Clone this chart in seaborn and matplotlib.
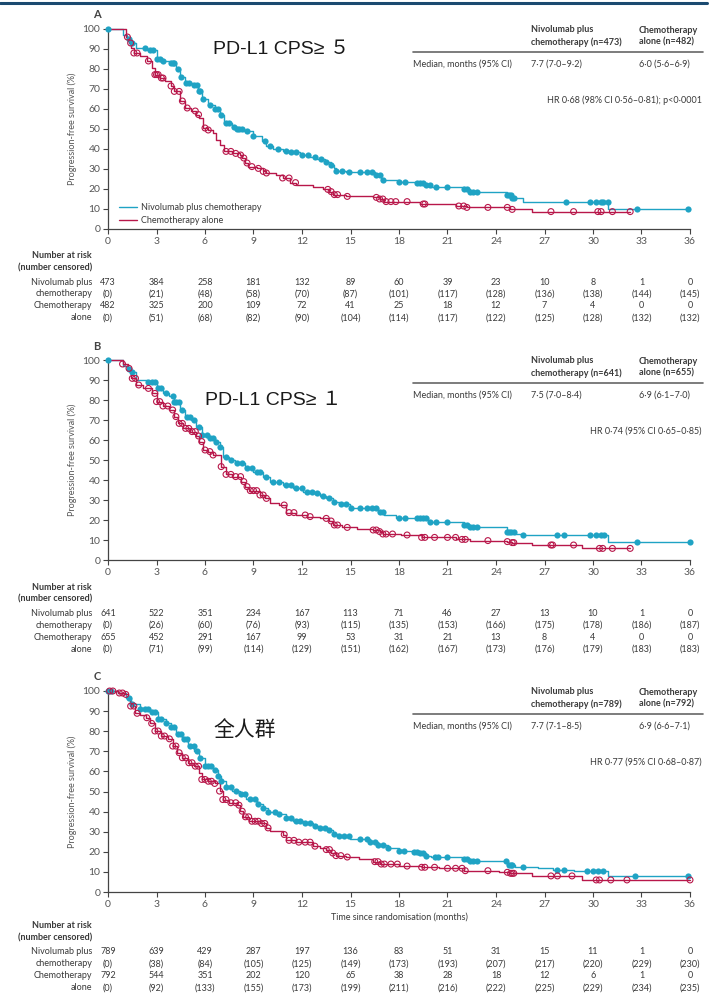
import numpy as np
import pandas as pd
import seaborn as sns
import matplotlib
matplotlib.use("Agg")
import matplotlib.pyplot as plt
import matplotlib.transforms as mtransforms
from matplotlib.lines import Line2D

sns.set_style("ticks")
plt.rcParams['font.family'] = ['Lato', 'DejaVu Sans']

TEAL = "#1fa3c4"
RED = "#b8174a"
TXT = "#3a3a3a"

# ---- data ----
months = list(range(0, 37, 3))

# panel A (PD-L1 CPS >= 5)
nivo_a_t = [0, 0.9, 1.2, 1.4, 1.75, 2.4, 3.0, 3.4, 3.9, 4.2, 4.45, 4.75, 5.25, 5.55, 5.8, 6.2, 6.6, 6.9, 7.2, 7.7,
            8.0, 8.35, 9.0, 9.5, 9.8, 10.2, 10.8, 11.2, 11.85, 12.5, 12.9, 13.4, 13.8, 13.95, 14.1, 14.7, 16.5, 16.9,
            18.0, 19.1, 19.6, 20.0, 22.0, 22.4, 24.65, 25.0, 25.7, 30.95, 36.0]
nivo_a_s = [100, 97, 95, 93, 90.5, 89.5, 85, 84, 83, 80, 76, 73, 72, 69, 65, 62, 60, 57, 53, 51,
            50, 49, 46.5, 44, 41.5, 40, 39, 38.3, 37.2, 36, 35, 33.5, 32, 30.5, 29.2, 28.3, 27, 24.5,
            23.3, 22.8, 22, 21.2, 20, 18.7, 17, 15.3, 13.7, 9.8, 9.8]
chemo_a_t = [0, 1.1, 1.3, 1.45, 1.6, 1.95, 2.4, 2.7, 2.9, 3.2, 3.5, 3.9, 4.1, 4.45, 4.75, 5.15, 5.45, 5.65, 5.9, 6.2,
             6.5, 6.7, 6.9, 7.2, 7.7, 8.15, 8.3, 8.45, 8.65, 9.2, 9.6, 9.8, 10.4, 10.8, 11.25, 11.65, 12.7, 13.3,
             13.7, 13.9, 14.7, 16.4, 16.8, 17.1, 19.3, 21.55, 22.2, 24.85, 26.2, 32.3]
chemo_a_s = [100, 96, 93, 90.5, 88, 86.7, 84, 80.5, 77.2, 75.5, 74, 71.5, 68.8, 64, 60.5, 59, 57.2, 55.5, 50.5, 49.5,
             47.8, 44.7, 42.2, 38.8, 37.8, 37, 35.5, 33, 31.2, 30.3, 28.8, 28, 27, 25.5, 23.2, 22.2, 21, 19.8,
             18.7, 17.2, 16.3, 15.8, 15, 13.7, 12.5, 11.5, 10.8, 9.8, 8.7, 8.7]
nivo_a_cens = [0, 1.3, 1.5, 2.3, 2.6, 2.8, 3.0, 3.2, 3.4, 3.9, 4.0, 4.1, 4.3, 4.5, 4.8, 5.0, 5.3, 5.5, 5.6, 5.7, 5.9,
               6.3, 6.6, 6.8, 7.0, 7.3, 7.5, 7.8, 8.0, 8.1, 8.3, 8.6, 9.0, 9.7, 10.0, 10.5, 11.0, 11.3, 11.6, 12.0,
               12.4, 12.8, 13.2, 13.5, 13.8, 14.1, 14.5, 14.9, 15.6, 16.0, 16.3, 16.6, 16.8, 17.0, 18.0, 18.4, 19.1,
               19.3, 19.5, 19.7, 19.9, 20.3, 21.0, 22.0, 22.2, 22.4, 22.6, 22.8, 24.7, 24.8, 24.9, 25.0, 25.1, 28.3,
               29.8, 30.2, 30.5, 30.6, 30.9, 32.7, 35.9]
chemo_a_cens = [1.2, 1.4, 1.6, 1.8, 2.5, 2.9, 3.0, 3.1, 3.3, 3.4, 3.9, 4.1, 4.4, 4.6, 4.9, 5.4, 5.6, 6.0, 6.2, 7.3,
                7.6, 7.9, 8.2, 8.4, 8.6, 8.9, 9.3, 9.6, 9.8, 10.8, 11.2, 11.6, 13.6, 13.8, 14.0, 14.2, 14.8, 16.6,
                16.8, 17.0, 17.2, 17.5, 17.8, 18.5, 19.5, 19.6, 21.7, 22.0, 22.2, 23.5, 24.7, 25.0, 27.4, 28.8,
                30.3, 30.5, 31.2, 32.3]
nivo_a_risk = [473, 384, 258, 181, 132, 89, 60, 39, 23, 10, 8, 1, 0]
nivo_a_nc = [0, 21, 48, 58, 70, 87, 101, 117, 128, 136, 138, 144, 145]
chemo_a_risk = [482, 325, 200, 109, 72, 41, 25, 18, 12, 7, 4, 0, 0]
chemo_a_nc = [0, 51, 68, 82, 90, 104, 114, 117, 122, 125, 128, 132, 132]

# panel B (PD-L1 CPS >= 1)
nivo_b_t = [0, 0.9, 1.2, 1.35, 1.75, 2.4, 3.0, 3.4, 3.8, 4.1, 4.45, 4.75, 5.15, 5.45, 5.8, 6.2, 6.6, 6.9, 7.1, 7.5,
            7.85, 8.45, 9.0, 9.6, 10.0, 10.8, 11.45, 12.05, 12.7, 13.1, 13.5, 13.9, 14.3, 14.95, 16.7, 17.1, 17.8,
            19.1, 19.8, 22.0, 22.4, 24.7, 25.2, 25.7, 30.95, 36.0]
nivo_b_s = [100, 97, 95.5, 94, 90, 89, 85.8, 83.3, 82, 79, 75, 71.7, 70, 66.7, 62.5, 60.8, 59.2, 56.7, 51.7, 50,
            48.3, 45.8, 44.2, 41.7, 39.2, 37.5, 35.8, 34.2, 33.3, 32, 30.8, 29.2, 28, 26, 24.2, 22.5, 21.2,
            20.8, 19.2, 17.5, 16.3, 14.2, 13, 12.5, 9.2, 9.2]
chemo_b_t = [0, 0.9, 1.25, 1.45, 1.75, 2.15, 2.7, 3.0, 3.4, 3.8, 4.1, 4.35, 4.65, 5.05, 5.45, 5.65, 5.9, 6.2, 6.5, 7.0,
             7.3, 7.7, 8.25, 8.45, 8.75, 9.4, 9.7, 10.0, 10.6, 11.0, 11.65, 12.3, 13.1, 13.7, 13.9, 14.5, 15.4, 16.4,
             16.8, 17.0, 18.1, 19.4, 21.55, 22.4, 24.65, 25.0, 26.2, 29.3, 32.3]
chemo_b_s = [100, 98, 95.8, 90.8, 87.5, 85.8, 83.3, 79.2, 77, 75, 71.7, 68.3, 65.8, 64.2, 62, 59.2, 55, 54.2, 52.5, 46.7,
             42.8, 41.7, 39.2, 36.7, 34.7, 32.5, 30.8, 28.3, 27.5, 23.7, 22.5, 21.7, 20.8, 19.5, 17.5, 16.3, 15.5, 15,
             14.2, 13, 12.5, 11.3, 10.3, 9.7, 9.2, 8.7, 7.5, 5.8, 5.8]
nivo_b_cens = [0, 1.3, 1.5, 2.5, 2.7, 2.9, 3.1, 3.3, 3.6, 4.0, 4.1, 4.2, 4.4, 4.6, 4.9, 5.1, 5.3, 5.6, 5.8, 6.1, 6.3,
               6.5, 6.7, 6.9, 7.3, 7.6, 8.0, 8.3, 8.6, 8.9, 9.2, 9.4, 9.8, 10.2, 10.6, 11.0, 11.3, 11.6, 12.0, 12.3,
               12.6, 12.9, 13.3, 13.7, 14.0, 14.4, 14.7, 15.0, 15.6, 16.0, 16.3, 16.6, 16.8, 17.0, 18.0, 18.4, 19.1,
               19.3, 19.5, 19.7, 19.9, 20.3, 21.0, 22.0, 22.2, 22.4, 22.6, 22.8, 24.7, 24.8, 24.9, 25.1, 25.7, 27.8,
               28.2, 29.8, 30.2, 30.5, 30.7, 32.7, 36.0]
chemo_b_cens = [0.9, 1.3, 1.5, 1.7, 1.9, 2.5, 2.9, 3.0, 3.2, 3.4, 3.7, 4.0, 4.2, 4.4, 4.6, 4.8, 5.0, 5.2, 5.4, 5.6,
                5.8, 6.0, 6.3, 6.5, 7.0, 7.3, 7.6, 7.9, 8.2, 8.4, 8.6, 8.8, 9.0, 9.2, 9.4, 9.6, 9.8, 10.9, 11.2, 11.5,
                12.2, 12.5, 13.5, 13.8, 14.0, 14.2, 14.8, 16.4, 16.6, 16.8, 17.0, 17.2, 17.6, 18.5, 19.4, 19.6, 20.2,
                21.0, 21.5, 21.9, 22.1, 23.5, 24.7, 25.0, 25.1, 27.4, 27.5, 28.8, 30.4, 30.6, 31.2, 32.3]
nivo_b_risk = [641, 522, 351, 234, 167, 113, 71, 46, 27, 13, 10, 1, 0]
nivo_b_nc = [0, 26, 60, 76, 93, 115, 135, 153, 166, 175, 178, 186, 187]
chemo_b_risk = [655, 452, 291, 167, 99, 53, 31, 21, 13, 8, 4, 0, 0]
chemo_b_nc = [0, 71, 99, 114, 129, 151, 162, 167, 173, 176, 179, 183, 183]

# panel C (all patients)
nivo_c_t = [0, 0.6, 1.1, 1.45, 1.95, 2.6, 3.1, 3.6, 3.9, 4.2, 4.55, 4.95, 5.35, 5.65, 6.0, 6.5, 6.8, 7.0, 7.3, 7.7,
            8.15, 8.55, 9.2, 9.6, 9.9, 10.4, 11.0, 11.45, 12.05, 12.7, 13.1, 13.6, 13.9, 14.3, 14.95, 16.2, 16.7,
            17.3, 18.0, 18.9, 19.3, 19.7, 20.0, 21.9, 22.4, 24.7, 25.2, 26.6, 27.5, 28.8, 30.95, 36.0]
nivo_c_s = [100, 99, 96.7, 93.4, 90.9, 89.5, 85.9, 83.9, 82.2, 78.4, 75.9, 72.6, 70.1, 66.8, 62.6, 60.5, 57.6, 55.1,
            52.2, 50.2, 49, 46.3, 44, 41.9, 39.7, 39, 36.9, 35.2, 34.1, 32.7, 31.9, 30.7, 29.1, 27.7, 26.4, 25, 23.4,
            21.7, 20.6, 20.1, 19.2, 17.9, 17.2, 16.3, 15.3, 13.4, 12.3, 11.9, 10.9, 10.6, 8, 8]
chemo_c_t = [0, 0.6, 1.0, 1.25, 1.35, 1.65, 1.95, 2.35, 2.6, 2.9, 3.3, 3.7, 4.0, 4.25, 4.55, 4.95, 5.35, 5.65, 5.8, 6.2,
             6.6, 6.9, 7.1, 7.5, 7.95, 8.15, 8.35, 8.75, 9.4, 9.8, 10.0, 10.8, 11.0, 11.65, 12.7, 13.1, 13.5, 13.8,
             14.1, 14.7, 15.5, 16.4, 16.8, 18.0, 19.4, 20.5, 22.0, 24.2, 24.8, 26.2, 29.3, 36.0]
chemo_c_s = [100, 99, 98.3, 96.2, 92.5, 88.9, 88, 86.7, 83.9, 80.1, 77.6, 76.2, 72.6, 69.3, 66.8, 64.3, 62.6, 59.3, 56,
             55.1, 54, 50.2, 46, 44.4, 43.2, 40.2, 37.4, 35.2, 34.1, 31.9, 30.2, 28.6, 25.7, 24.8, 22.8, 21.9, 21.1,
             19.4, 18.1, 17.4, 16.3, 15.1, 13.9, 12.9, 12.3, 11.8, 10.6, 9.8, 9.3, 8, 6, 6]
nivo_c_cens = [0, 0.2, 1.3, 1.5, 2.0, 2.3, 2.5, 2.7, 2.9, 3.1, 3.3, 3.6, 3.9, 4.1, 4.3, 4.5, 4.7, 4.9, 5.1, 5.3, 5.5,
               5.7, 6.0, 6.2, 6.4, 6.6, 6.8, 7.0, 7.3, 7.6, 7.9, 8.2, 8.5, 8.8, 9.1, 9.3, 9.6, 9.9, 10.3, 10.6, 11.0,
               11.3, 11.6, 11.9, 12.2, 12.5, 12.8, 13.1, 13.4, 13.7, 14.0, 14.3, 14.6, 14.9, 15.6, 16.0, 16.2, 16.5,
               16.7, 17.0, 17.3, 18.0, 18.3, 18.9, 19.1, 19.3, 19.5, 19.7, 20.2, 20.4, 21.0, 22.0, 22.2, 22.4, 22.6,
               22.8, 24.6, 24.8, 24.9, 25.0, 25.7, 27.8, 28.2, 29.6, 30.0, 30.3, 30.6, 32.6, 35.9]
chemo_c_cens = [0.1, 0.3, 0.7, 0.9, 1.1, 1.4, 1.6, 1.8, 2.4, 2.7, 2.9, 3.1, 3.3, 3.5, 3.8, 4.0, 4.2, 4.4, 4.6, 4.8,
                5.0, 5.2, 5.4, 5.6, 5.8, 6.0, 6.2, 6.4, 6.6, 6.9, 7.1, 7.3, 7.6, 7.9, 8.1, 8.3, 8.5, 8.7, 8.9, 9.1,
                9.3, 9.5, 9.7, 9.9, 10.9, 11.2, 11.5, 11.8, 12.2, 12.5, 12.8, 13.5, 13.7, 13.9, 14.1, 14.4, 14.8,
                16.5, 16.7, 16.9, 17.1, 17.5, 17.9, 18.5, 19.4, 19.6, 20.2, 21.0, 21.5, 21.9, 22.1, 23.5, 24.7, 24.9,
                25.0, 25.1, 27.4, 27.8, 28.7, 30.2, 30.4, 31.1, 32.1, 36.0]
nivo_c_risk = [789, 639, 429, 287, 197, 136, 83, 51, 31, 15, 11, 1, 0]
nivo_c_nc = [0, 38, 84, 105, 125, 149, 173, 193, 207, 217, 220, 229, 230]
chemo_c_risk = [792, 544, 351, 202, 120, 65, 38, 28, 18, 12, 6, 1, 0]
chemo_c_nc = [0, 92, 133, 155, 173, 199, 211, 216, 222, 225, 229, 234, 235]

panel_letters = ["A", "B", "C"]
overlay = ["PD-L1 CPS≥ ５", "PD-L1 CPS≥ １", "全人群"]
n_nivo = [473, 641, 789]
n_chemo = [482, 655, 792]
med_nivo = ["7·7 (7·0–9·2)", "7·5 (7·0–8·4)", "7·7 (7·1–8·5)"]
med_chemo = ["6·0 (5·6–6·9)", "6·9 (6·1–7·0)", "6·9 (6·6–7·1)"]
hr_text = ["HR 0·68 (98% CI 0·56–0·81); p<0·0001", "HR 0·74 (95% CI 0·65–0·85)", "HR 0·77 (95% CI 0·68–0·87)"]

panels = [
    dict(nt=nivo_a_t, ns=nivo_a_s, ct=chemo_a_t, cs=chemo_a_s, ncen=nivo_a_cens, ccen=chemo_a_cens,
         nr=nivo_a_risk, nnc=nivo_a_nc, cr=chemo_a_risk, cnc=chemo_a_nc),
    dict(nt=nivo_b_t, ns=nivo_b_s, ct=chemo_b_t, cs=chemo_b_s, ncen=nivo_b_cens, ccen=chemo_b_cens,
         nr=nivo_b_risk, nnc=nivo_b_nc, cr=chemo_b_risk, cnc=chemo_b_nc),
    dict(nt=nivo_c_t, ns=nivo_c_s, ct=chemo_c_t, cs=chemo_c_s, ncen=nivo_c_cens, ccen=chemo_c_cens,
         nr=nivo_c_risk, nnc=nivo_c_nc, cr=chemo_c_risk, cnc=chemo_c_nc),
]

# ---- layout (pixel positions in a 717x999 canvas) ----
W, H = 717, 999
def fx(px):
    return px / W
def fy(px):
    return 1 - px / H

ax_top = [29, 360, 691]
ax_bot = [229, 560, 892]
table_off = [0, 0, 7]


def step_at(t, s, c):
    idx = np.searchsorted(np.asarray(t), np.asarray(c), side="right") - 1
    return np.asarray(s)[idx]


fig = plt.figure(figsize=(W / 100, H / 100), dpi=100)
fig.add_artist(Line2D([0, fx(707)], [fy(3), fy(3)], color="#1b4a70", lw=2.2))

for i, p in enumerate(panels):
    top, bot = ax_top[i], ax_bot[i]
    ax = fig.add_axes([fx(108), fy(bot), fx(690) - fx(108), (bot - top) / H])

    df = pd.concat([
        pd.DataFrame({"time": p["nt"], "surv": p["ns"], "arm": "Nivolumab plus chemotherapy"}),
        pd.DataFrame({"time": p["ct"], "surv": p["cs"], "arm": "Chemotherapy alone"}),
    ])
    sns.lineplot(data=df, x="time", y="surv", hue="arm", estimator=None, drawstyle="steps-post",
                 palette={"Nivolumab plus chemotherapy": TEAL, "Chemotherapy alone": RED},
                 linewidth=1.0, ax=ax, clip_on=False, legend=(i == 0))

    sns.scatterplot(x=p["ncen"], y=step_at(p["nt"], p["ns"], p["ncen"]), color=TEAL, s=20,
                    linewidth=0, ax=ax, clip_on=False, zorder=3)
    sns.scatterplot(x=p["ccen"], y=step_at(p["ct"], p["cs"], p["ccen"]), facecolor="none",
                    edgecolor=RED, s=18, linewidth=0.8, ax=ax, clip_on=False, zorder=3)

    ax.set_xlim(0, 36)
    ax.set_ylim(0, 100)
    ax.set_xticks(months)
    ax.set_yticks(range(0, 101, 10))
    ax.set_xlabel("")
    ax.set_ylabel("Progression-free survival (%)", fontsize=6.5, color="#555555")
    ax.yaxis.set_label_coords(-0.053, 0.5)
    sns.despine(ax=ax)
    for sp in ["left", "bottom"]:
        ax.spines[sp].set_color("#444444")
        ax.spines[sp].set_linewidth(0.9)
    ax.tick_params(direction="out", length=3.5, width=0.8, color="#444444",
                   labelsize=7.5, labelcolor="#555555", pad=2)

    if i == 0:
        leg = ax.legend(loc="lower left", bbox_to_anchor=(0.012, 0.0), frameon=False, fontsize=6.5,
                        handlelength=2.0, handletextpad=0.5, labelspacing=0.45, borderaxespad=0)
        for t in leg.get_texts():
            t.set_color(TXT)
    if i == 2:
        ax.set_xlabel("Time since randomisation (months)", fontsize=6.5, color=TXT, labelpad=3)

    # panel letter and overlay label
    fig.text(fx(97), fy(top - 14), panel_letters[i], fontsize=8, fontweight="bold", color="#444444",
             ha="center", va="center")
    if i < 2:
        fig.text(fx(213 if i == 0 else 205), fy(top + 21 if i == 0 else top + 40), overlay[i], fontsize=14,
                 family=["Liberation Sans", "Noto Sans CJK SC"], color="#1a1a1a", ha="left", va="center")
    else:
        fig.text(fx(213), fy(top + 39), overlay[i], fontsize=15,
                 family=["Noto Sans CJK SC"], color="#1a1a1a", ha="left", va="center")

    # median table
    ht = top + 7
    fig.text(fx(531), fy(ht), "Nivolumab plus\nchemotherapy (n=%d)" % n_nivo[i], fontsize=6.5,
             fontweight="bold", color=TXT, ha="left", va="center", linespacing=1.35)
    fig.text(fx(639), fy(ht), "Chemotherapy\nalone (n=%d)" % n_chemo[i], fontsize=6.5,
             fontweight="bold", color=TXT, ha="left", va="center", linespacing=1.35)
    fig.add_artist(Line2D([fx(413), fx(703)], [fy(top + 23), fy(top + 23)], color="#666666", lw=1.2))
    fig.text(fx(413), fy(top + 35), "Median, months (95% CI)", fontsize=6.5, color=TXT, ha="left", va="center")
    fig.text(fx(531), fy(top + 35), med_nivo[i], fontsize=6.5, color=TXT, ha="left", va="center")
    fig.text(fx(639), fy(top + 35), med_chemo[i], fontsize=6.5, color=TXT, ha="left", va="center")
    fig.text(fx(702), fy(top + 71), hr_text[i], fontsize=6.5, color=TXT, ha="right", va="center")

    # number at risk table
    off = table_off[i]
    rows = [bot + 53 + off, bot + 65 + off, bot + 77 + off, bot + 89 + off]
    fig.text(fx(92), fy(bot + 27 + off), "Number at risk", fontsize=6.5, fontweight="bold", color=TXT,
             ha="right", va="center")
    fig.text(fx(92), fy(bot + 39 + off), "(number censored)", fontsize=6.5, fontweight="bold", color=TXT,
             ha="right", va="center")
    row_labels = ["Nivolumab plus", "chemotherapy", "Chemotherapy", "alone"]
    row_vals = [[str(v) for v in p["nr"]], ["(%d)" % v for v in p["nnc"]],
                [str(v) for v in p["cr"]], ["(%d)" % v for v in p["cnc"]]]
    trans = mtransforms.blended_transform_factory(ax.transData, fig.transFigure)
    for ry, lab, vals in zip(rows, row_labels, row_vals):
        fig.text(fx(92), fy(ry), lab, fontsize=6.5, color=TXT, ha="right", va="center")
        for m, v in zip(months, vals):
            ax.text(m, fy(ry), v, transform=trans, fontsize=6.5, color=TXT, ha="center", va="center",
                    clip_on=False)

fig.savefig("out.png", dpi=100)
